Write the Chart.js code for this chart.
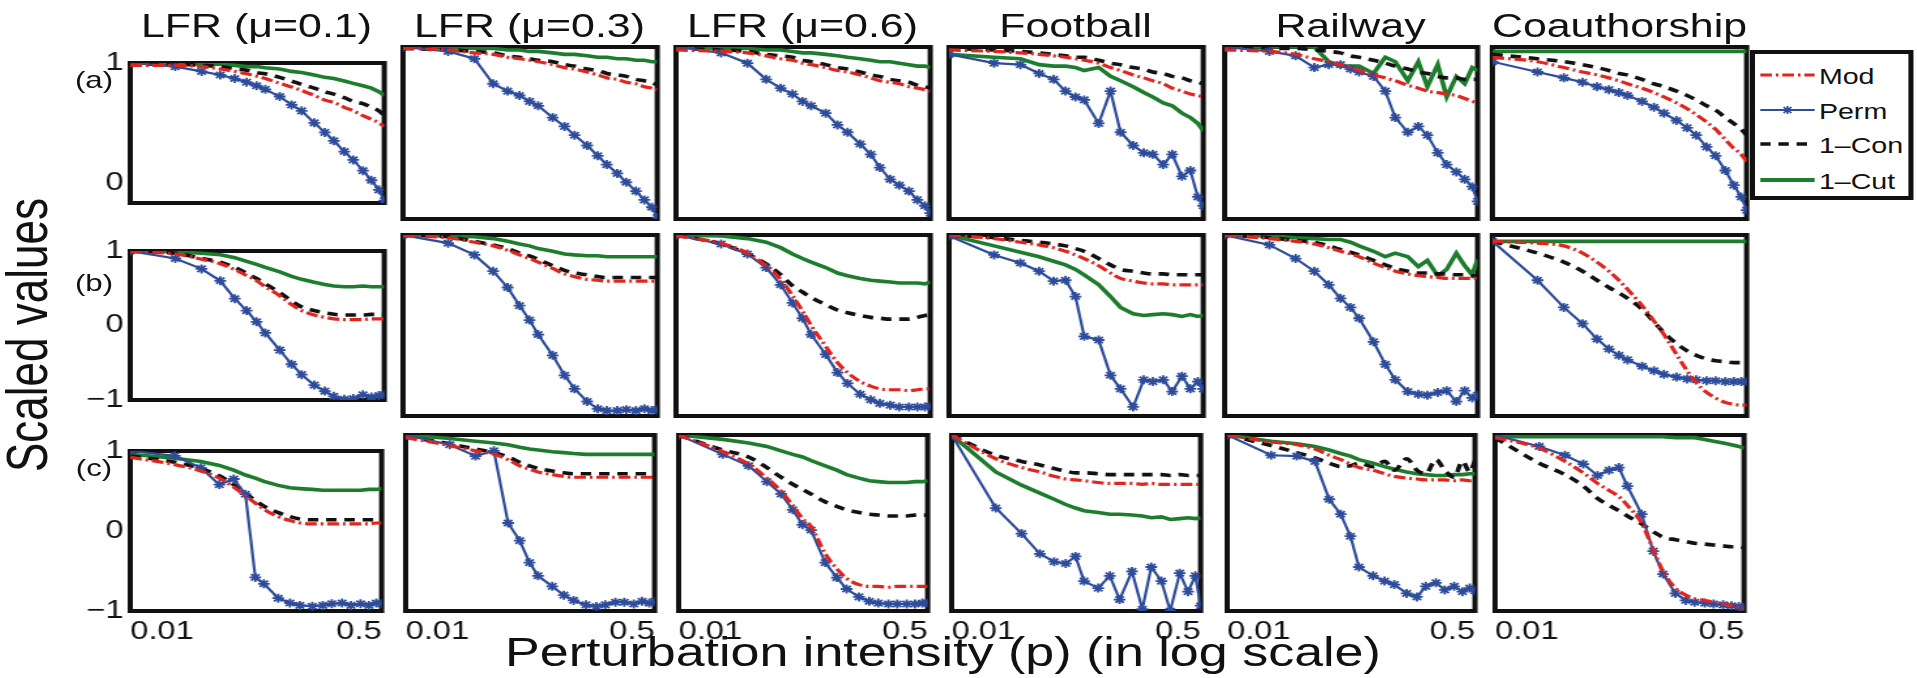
<!DOCTYPE html>
<html>
<head>
<meta charset="utf-8">
<script src="https://cdn.jsdelivr.net/npm/chart.js@4.4.0/dist/chart.umd.min.js"></script>
<style>
  html, body { margin: 0; padding: 0; background: #fff; overflow: hidden; }
  #stage { position: absolute; left: 0; top: 0; width: 1475px; height: 678px;
           transform: scaleX(1.3); transform-origin: 0 0;
           font-family: 'Liberation Sans', Arial, sans-serif; color: #111; }
  .panel { position: absolute; }
  .txt { position: absolute; white-space: nowrap; line-height: 1; }
  #legend { position: absolute; box-sizing: border-box; border: 4px solid #111; background: #fff; }
  .item { position: absolute; left: 0; height: 30px; white-space: nowrap; }
  .item svg { position: absolute; left: 4px; top: 10px; }
  .item span { position: absolute; left: 49px; top: 4px; font-size: 22px; white-space: nowrap; }
</style>
</head>
<body>
<div id="stage"></div>
<script>
// perturbation intensity p (x values, log axis)
const pValues = [0.01, 0.02, 0.03, 0.04, 0.05, 0.06, 0.07, 0.08, 0.1, 0.12, 0.14, 0.17, 0.2, 0.23, 0.27, 0.31, 0.36, 0.41, 0.46, 0.5]

const columnTitles = ['LFR (\u03bc=0.1)', 'LFR (\u03bc=0.3)', 'LFR (\u03bc=0.6)', 'Football', 'Railway', 'Coauthorship']
const rowLabels = ['(a)', '(b)', '(c)']
const seriesNames = ['Mod', 'Perm', '1\u2013Con', '1\u2013Cut']
const xTickValues = [0.01, 0.5]
const xTickLabels = ['0.01', '0.5']
const yTicksTop = [0, 1]
const yTicksOther = [-1, 0, 1]

// row (a)
const modA = [
  [0.98,0.98,0.97,0.95,0.93,0.91,0.89,0.87,0.83,0.8,0.77,0.73,0.69,0.67,0.63,0.6,0.56,0.53,0.5,0.47],
  [0.99,0.98,0.96,0.95,0.93,0.92,0.91,0.9,0.88,0.86,0.85,0.83,0.81,0.79,0.78,0.76,0.75,0.73,0.72,0.71],
  [0.98,0.97,0.96,0.94,0.92,0.91,0.89,0.88,0.86,0.84,0.83,0.81,0.79,0.77,0.76,0.75,0.73,0.72,0.71,0.7],
  [0.98,0.97,0.96,0.95,0.94,0.93,0.92,0.91,0.89,0.86,0.84,0.81,0.79,0.77,0.75,0.72,0.7,0.68,0.67,0.66],
  [0.98,0.97,0.95,0.92,0.9,0.88,0.86,0.84,0.81,0.79,0.77,0.74,0.72,0.7,0.69,0.68,0.67,0.65,0.63,0.62],
  [0.93,0.9,0.86,0.83,0.81,0.79,0.77,0.75,0.72,0.69,0.66,0.62,0.58,0.54,0.49,0.44,0.37,0.31,0.27,0.22]
]
const permA = [
  [1,0.97,0.93,0.9,0.87,0.84,0.81,0.78,0.72,0.65,0.6,0.5,0.42,0.35,0.26,0.19,0.1,0.02,-0.06,-0.15],
  [1,0.97,0.92,0.75,0.7,0.67,0.63,0.6,0.52,0.46,0.4,0.33,0.26,0.2,0.14,0.08,0.02,-0.04,-0.09,-0.16],
  [1,0.96,0.89,0.78,0.72,0.68,0.63,0.6,0.55,0.47,0.42,0.34,0.27,0.18,0.1,0.06,0.02,-0.04,-0.08,-0.13],
  [0.95,0.89,0.88,0.82,0.78,0.7,0.66,0.64,0.48,0.7,0.42,0.33,0.28,0.27,0.2,0.27,0.12,0.16,-0.02,-0.08],
  [1,0.97,0.94,0.86,0.88,0.88,0.85,0.83,0.8,0.7,0.52,0.42,0.46,0.4,0.28,0.2,0.15,0.1,0.05,-0.05],
  [0.9,0.83,0.79,0.76,0.73,0.71,0.69,0.67,0.63,0.59,0.55,0.5,0.45,0.4,0.32,0.26,0.16,0.06,-0.02,-0.11]
]
const conA = [
  [0.99,0.99,0.98,0.97,0.95,0.94,0.92,0.91,0.88,0.85,0.82,0.79,0.76,0.74,0.71,0.68,0.66,0.63,0.6,0.56],
  [0.99,0.98,0.97,0.96,0.94,0.93,0.92,0.91,0.9,0.88,0.87,0.85,0.84,0.82,0.81,0.8,0.78,0.77,0.76,0.74],
  [0.99,0.98,0.97,0.95,0.94,0.93,0.91,0.9,0.88,0.86,0.85,0.83,0.81,0.8,0.78,0.77,0.76,0.74,0.73,0.72],
  [0.99,0.98,0.97,0.96,0.95,0.94,0.93,0.93,0.91,0.89,0.88,0.86,0.85,0.83,0.82,0.8,0.79,0.77,0.76,0.75],
  [1,0.99,0.99,0.98,0.97,0.96,0.94,0.93,0.91,0.89,0.87,0.85,0.83,0.82,0.8,0.79,0.79,0.78,0.78,0.78],
  [0.95,0.92,0.9,0.88,0.86,0.84,0.82,0.81,0.78,0.75,0.73,0.7,0.67,0.64,0.6,0.57,0.52,0.48,0.44,0.4]
]
const cutA = [
  [1,1,0.99,0.99,0.98,0.97,0.97,0.96,0.95,0.93,0.92,0.9,0.88,0.87,0.85,0.83,0.81,0.79,0.76,0.73],
  [1,1,0.99,0.99,0.98,0.98,0.97,0.97,0.96,0.95,0.95,0.94,0.93,0.93,0.92,0.92,0.91,0.91,0.9,0.9],
  [1,0.99,0.99,0.98,0.98,0.97,0.96,0.96,0.95,0.94,0.93,0.92,0.91,0.9,0.9,0.89,0.88,0.87,0.87,0.86],
  [0.95,0.93,0.92,0.88,0.87,0.87,0.86,0.84,0.86,0.8,0.77,0.73,0.69,0.66,0.62,0.6,0.55,0.52,0.48,0.43],
  [1,1,1,1,0.9,0.87,0.87,0.87,0.82,0.93,0.9,0.77,0.9,0.73,0.88,0.66,0.8,0.75,0.86,0.84],
  [0.97,0.97,0.97,0.97,0.97,0.97,0.97,0.97,0.97,0.97,0.97,0.97,0.97,0.97,0.97,0.97,0.97,0.97,0.97,0.97]
]

// row (b)
const modB = [
  [0.99,0.96,0.89,0.83,0.75,0.67,0.6,0.52,0.4,0.28,0.2,0.14,0.11,0.09,0.08,0.08,0.08,0.09,0.09,0.09],
  [0.99,0.97,0.92,0.88,0.83,0.78,0.74,0.7,0.63,0.57,0.54,0.51,0.5,0.49,0.49,0.49,0.49,0.49,0.49,0.49],
  [0.99,0.91,0.8,0.66,0.51,0.33,0.16,0,-0.23,-0.41,-0.52,-0.62,-0.67,-0.7,-0.71,-0.71,-0.72,-0.71,-0.7,-0.7],
  [1,0.96,0.92,0.89,0.86,0.82,0.78,0.74,0.66,0.58,0.52,0.49,0.47,0.46,0.46,0.45,0.45,0.45,0.45,0.45],
  [1,0.96,0.93,0.9,0.86,0.82,0.79,0.76,0.69,0.64,0.6,0.57,0.55,0.54,0.53,0.52,0.52,0.52,0.52,0.52],
  [0.93,0.91,0.88,0.8,0.7,0.6,0.5,0.4,0.22,0.05,-0.1,-0.32,-0.5,-0.63,-0.74,-0.8,-0.85,-0.87,-0.88,-0.88]
]
const permB = [
  [1,0.9,0.76,0.6,0.36,0.2,0.05,-0.1,-0.33,-0.52,-0.66,-0.8,-0.88,-0.95,-0.99,-0.98,-0.93,-0.96,-0.94,-0.93],
  [1,0.91,0.78,0.6,0.42,0.22,0.06,-0.1,-0.33,-0.55,-0.7,-0.84,-0.92,-0.94,-0.94,-0.93,-0.94,-0.92,-0.94,-0.93],
  [1,0.9,0.79,0.64,0.45,0.25,0.08,-0.1,-0.32,-0.52,-0.64,-0.76,-0.82,-0.86,-0.88,-0.9,-0.9,-0.9,-0.9,-0.89],
  [0.99,0.78,0.69,0.6,0.49,0.5,0.32,-0.12,-0.16,-0.55,-0.7,-0.9,-0.6,-0.62,-0.6,-0.73,-0.56,-0.7,-0.62,-0.7],
  [1,0.89,0.74,0.6,0.45,0.3,0.2,0.08,-0.18,-0.43,-0.6,-0.73,-0.76,-0.77,-0.74,-0.72,-0.84,-0.72,-0.8,-0.77],
  [0.93,0.5,0.2,0.02,-0.15,-0.26,-0.33,-0.38,-0.45,-0.5,-0.54,-0.57,-0.59,-0.6,-0.61,-0.61,-0.62,-0.62,-0.62,-0.62]
]
const conB = [
  [1,0.97,0.9,0.85,0.78,0.7,0.63,0.56,0.44,0.33,0.25,0.2,0.17,0.15,0.14,0.14,0.14,0.15,0.15,0.15],
  [1,0.98,0.93,0.89,0.85,0.8,0.77,0.73,0.66,0.61,0.58,0.56,0.54,0.53,0.53,0.53,0.53,0.53,0.53,0.53],
  [1,0.9,0.79,0.68,0.56,0.44,0.37,0.31,0.23,0.17,0.14,0.11,0.09,0.08,0.07,0.07,0.07,0.09,0.11,0.12],
  [1,0.97,0.94,0.92,0.9,0.88,0.85,0.82,0.74,0.67,0.62,0.6,0.58,0.57,0.57,0.56,0.56,0.56,0.56,0.56],
  [1,0.97,0.94,0.92,0.88,0.84,0.81,0.78,0.72,0.67,0.63,0.6,0.58,0.58,0.57,0.57,0.56,0.56,0.55,0.55],
  [0.93,0.8,0.7,0.6,0.5,0.42,0.36,0.3,0.18,0.04,-0.08,-0.2,-0.28,-0.33,-0.37,-0.39,-0.4,-0.41,-0.41,-0.42]
]
const cutB = [
  [1,0.99,0.97,0.95,0.91,0.86,0.82,0.78,0.72,0.66,0.62,0.58,0.55,0.53,0.52,0.52,0.53,0.52,0.52,0.52],
  [1,0.99,0.98,0.96,0.93,0.9,0.88,0.85,0.82,0.79,0.78,0.77,0.77,0.76,0.76,0.76,0.76,0.76,0.76,0.76],
  [1,0.99,0.96,0.92,0.86,0.79,0.74,0.7,0.64,0.58,0.55,0.52,0.5,0.49,0.48,0.47,0.47,0.47,0.46,0.48],
  [1,0.88,0.81,0.76,0.71,0.67,0.62,0.56,0.45,0.32,0.2,0.13,0.11,0.12,0.13,0.12,0.1,0.12,0.1,0.11],
  [1,0.99,0.97,0.96,0.95,0.95,0.92,0.88,0.82,0.76,0.8,0.76,0.65,0.72,0.55,0.62,0.8,0.66,0.56,0.73],
  [0.93,0.93,0.93,0.93,0.93,0.93,0.93,0.93,0.93,0.93,0.93,0.93,0.93,0.93,0.93,0.93,0.93,0.93,0.93,0.93]
]

// row (c)
const modC = [
  [0.92,0.83,0.75,0.66,0.55,0.44,0.35,0.27,0.18,0.13,0.1,0.09,0.09,0.09,0.09,0.09,0.09,0.09,0.1,0.1],
  [0.97,0.88,0.82,0.78,0.72,0.65,0.61,0.58,0.55,0.53,0.52,0.52,0.52,0.52,0.52,0.52,0.52,0.52,0.52,0.52],
  [1,0.81,0.67,0.51,0.36,0.2,0.05,-0.04,-0.35,-0.52,-0.63,-0.7,-0.72,-0.72,-0.73,-0.72,-0.72,-0.72,-0.72,-0.72],
  [1,0.73,0.63,0.58,0.53,0.5,0.49,0.48,0.46,0.45,0.45,0.45,0.44,0.45,0.44,0.44,0.44,0.44,0.44,0.44],
  [1,0.92,0.89,0.84,0.77,0.72,0.67,0.63,0.6,0.56,0.53,0.51,0.5,0.49,0.49,0.49,0.48,0.49,0.48,0.49],
  [0.97,0.85,0.7,0.57,0.45,0.37,0.3,0.2,0,-0.3,-0.55,-0.74,-0.82,-0.86,-0.88,-0.9,-0.92,-0.94,-0.96,-0.98]
]
const permC = [
  [1,0.94,0.79,0.58,0.65,0.46,-0.58,-0.66,-0.84,-0.9,-0.93,-0.94,-0.93,-0.91,-0.9,-0.93,-0.91,-0.93,-0.9,-0.91],
  [1,0.89,0.76,0.82,0,-0.2,-0.45,-0.6,-0.72,-0.82,-0.88,-0.93,-0.95,-0.93,-0.9,-0.9,-0.92,-0.89,-0.91,-0.89],
  [1,0.78,0.65,0.47,0.33,0.15,-0.02,-0.08,-0.45,-0.62,-0.75,-0.84,-0.89,-0.91,-0.92,-0.92,-0.92,-0.92,-0.91,-0.91],
  [1,0.17,-0.12,-0.35,-0.44,-0.46,-0.38,-0.66,-0.74,-0.6,-0.87,-0.55,-0.98,-0.5,-0.66,-1,-0.57,-0.78,-0.6,-0.94],
  [1,0.77,0.76,0.7,0.27,0.1,-0.15,-0.5,-0.6,-0.66,-0.7,-0.8,-0.84,-0.72,-0.68,-0.76,-0.72,-0.78,-0.74,-0.77],
  [1,0.87,0.77,0.67,0.54,0.6,0.63,0.42,0.1,-0.32,-0.58,-0.8,-0.88,-0.9,-0.91,-0.92,-0.93,-0.94,-0.95,-0.96]
]
const conC = [
  [0.94,0.86,0.78,0.69,0.58,0.47,0.38,0.31,0.23,0.18,0.15,0.14,0.14,0.14,0.14,0.14,0.14,0.14,0.14,0.14],
  [0.98,0.9,0.84,0.8,0.75,0.69,0.65,0.62,0.59,0.57,0.56,0.56,0.56,0.56,0.56,0.56,0.56,0.56,0.56,0.56],
  [1,0.83,0.75,0.63,0.52,0.44,0.38,0.33,0.24,0.19,0.15,0.12,0.1,0.09,0.08,0.08,0.08,0.09,0.09,0.09],
  [1,0.77,0.7,0.66,0.62,0.59,0.57,0.57,0.56,0.55,0.55,0.55,0.55,0.55,0.55,0.54,0.55,0.54,0.54,0.54],
  [1,0.88,0.8,0.74,0.68,0.64,0.65,0.68,0.64,0.7,0.6,0.73,0.6,0.56,0.72,0.6,0.52,0.7,0.58,0.71],
  [0.97,0.68,0.55,0.42,0.28,0.2,0.14,0.08,-0.01,-0.1,-0.16,-0.19,-0.21,-0.23,-0.24,-0.25,-0.26,-0.27,-0.27,-0.28]
]
const cutC = [
  [0.96,0.91,0.87,0.82,0.76,0.7,0.66,0.62,0.57,0.54,0.53,0.52,0.51,0.51,0.51,0.51,0.51,0.52,0.52,0.53],
  [1,0.96,0.93,0.91,0.89,0.86,0.84,0.83,0.81,0.8,0.79,0.78,0.78,0.78,0.78,0.78,0.78,0.78,0.78,0.78],
  [1,0.95,0.91,0.87,0.82,0.78,0.75,0.71,0.65,0.6,0.55,0.51,0.48,0.47,0.46,0.46,0.46,0.47,0.47,0.48],
  [1,0.58,0.43,0.34,0.27,0.21,0.17,0.14,0.12,0.1,0.1,0.09,0.08,0.06,0.07,0.04,0.05,0.06,0.05,0.06],
  [1,0.93,0.9,0.87,0.83,0.79,0.76,0.72,0.68,0.64,0.61,0.58,0.56,0.55,0.54,0.54,0.55,0.55,0.56,0.56],
  [0.98,0.98,0.98,0.98,0.98,0.98,0.98,0.98,0.98,0.98,0.98,0.97,0.97,0.97,0.95,0.93,0.91,0.89,0.87,0.85]
]

const rows = [
  { mod: modA, perm: permA, con: conA, cut: cutA, yMin: -0.17, ticks: yTicksTop },
  { mod: modB, perm: permB, con: conB, cut: cutB, yMin: -1, ticks: yTicksOther },
  { mod: modC, perm: permC, con: conC, cut: cutC, yMin: -1, ticks: yTicksOther }
]

// layout, in screen pixels (the stage is stretched horizontally by K)
const K = 1.3
const colLeft = [130, 403, 676, 949, 1224, 1493]
const colWidth = 253
const rowTop = [47, 235, 435]
const rowHeight = [172, 181, 176]
const FONT = "'Liberation Sans', Arial, sans-serif"

const RED = '#e3241d', BLUE = '#2d4c9c', BLACK = '#111111', GREEN = '#1c7d2c'

const stage = document.getElementById('stage')

function addText(str, cx, cy, size, rotate) {
  const d = document.createElement('div')
  d.className = 'txt'
  d.textContent = str
  d.style.fontSize = size + 'px'
  d.style.left = (cx / K) + 'px'
  d.style.top = cy + 'px'
  d.style.transform = 'translate(-50%, -50%)' + (rotate ? ' rotate(-90deg)' : '')
  stage.appendChild(d)
}

const framePlugin = {
  id: 'frame',
  beforeDatasetsDraw(chart) {
    const { ctx, chartArea: a } = chart
    ctx.save()
    ctx.strokeStyle = BLACK
    ctx.lineWidth = 4
    ctx.strokeRect(a.left, a.top, a.right - a.left, a.bottom - a.top)
    ctx.restore()
  }
}

function series(arr) {
  return pValues.map((p, i) => ({ x: p, y: arr[i] }))
}

function makePanel(r, c) {
  const row = rows[r]
  const yw = c === 0 ? 40 : 4
  const xh = r === 2 ? 34 : 4
  const pad = 4
  const div = document.createElement('div')
  div.className = 'panel'
  div.style.left = (colLeft[c] / K - yw) + 'px'
  div.style.top = (rowTop[r] - pad) + 'px'
  div.style.width = (colWidth / K + yw + pad) + 'px'
  div.style.height = (rowHeight[r] + pad + xh) + 'px'
  const canvas = document.createElement('canvas')
  div.appendChild(canvas)
  stage.appendChild(div)

  new Chart(canvas.getContext('2d'), {
    type: 'line',
    data: {
      datasets: [
        { label: seriesNames[0], data: series(row.mod[c]), borderColor: RED, borderWidth: 3.2,
          borderDash: [9, 3, 2, 3], pointRadius: 0, cubicInterpolationMode: 'monotone' },
        { label: seriesNames[1], data: series(row.perm[c]), borderColor: BLUE, borderWidth: 2.2,
          pointStyle: 'star', pointRadius: 4.5, pointBorderWidth: 1.8, pointBorderColor: BLUE,
          pointBackgroundColor: BLUE },
        { label: seriesNames[2], data: series(row.con[c]), borderColor: BLACK, borderWidth: 3.6,
          borderDash: [8, 6], pointRadius: 0, cubicInterpolationMode: 'monotone' },
        { label: seriesNames[3], data: series(row.cut[c]), borderColor: GREEN, borderWidth: 3.6,
          pointRadius: 0 }
      ]
    },
    options: {
      responsive: true,
      maintainAspectRatio: false,
      animation: false,
      events: [],
      layout: { autoPadding: false, padding: { top: pad, right: pad, left: 0, bottom: 0 } },
      plugins: { legend: { display: false }, tooltip: { enabled: false } },
      scales: {
        x: {
          type: 'logarithmic', min: 0.01, max: 0.5,
          grid: { display: false, drawTicks: false }, border: { display: false },
          afterBuildTicks: s => { s.ticks = xTickValues.map(v => ({ value: v })) },
          afterFit: s => { s.height = xh },
          ticks: {
            display: r === 2, align: 'inner', maxRotation: 0, autoSkip: false, padding: 6,
            color: BLACK, font: { family: FONT, size: 25 },
            callback: (v, i) => xTickLabels[i]
          }
        },
        y: {
          min: row.yMin, max: 1,
          grid: { display: false, drawTicks: false }, border: { display: false },
          afterBuildTicks: s => { s.ticks = row.ticks.map(v => ({ value: v })) },
          afterFit: s => { s.width = yw },
          ticks: {
            display: c === 0, padding: 5, color: BLACK, font: { family: FONT, size: 25 },
            callback: v => (v < 0 ? '\u2212' + Math.abs(v) : String(v))
          }
        }
      }
    },
    plugins: [framePlugin]
  })
}

for (let r = 0; r < 3; r++) {
  for (let c = 0; c < 6; c++) makePanel(r, c)
}

// column titles, row labels, axis titles
columnTitles.forEach((t, c) => addText(t, colLeft[c] + colWidth / 2, 25, 33))
const rowLabelY = [80, 283, 468]
rowLabels.forEach((t, r) => addText(t, 94, rowLabelY[r], 24))
addText('Scaled values', 27, 335, 44, true)
addText('Perturbation intensity (p) (in log scale)', 943, 652, 40)

// legend
const legend = document.createElement('div')
legend.id = 'legend'
legend.style.left = (1750 / K) + 'px'
legend.style.top = '50px'
legend.style.width = ((1913 - 1750) / K) + 'px'
legend.style.height = '150px'
stage.appendChild(legend)
const samples = [
  '<line x1="0" y1="5" x2="42" y2="5" stroke="' + RED + '" stroke-width="3" stroke-dasharray="9 3 2 3"/>',
  '<line x1="0" y1="5" x2="42" y2="5" stroke="' + BLUE + '" stroke-width="2"/>' +
    '<path d="M21 1 V9 M17 5 H25 M18 2 L24 8 M24 2 L18 8" stroke="' + BLUE + '" stroke-width="1.5"/>',
  '<line x1="0" y1="5" x2="42" y2="5" stroke="' + BLACK + '" stroke-width="3.5" stroke-dasharray="8 6"/>',
  '<line x1="0" y1="5" x2="42" y2="5" stroke="' + GREEN + '" stroke-width="4"/>'
]
const itemY = [6, 41, 75, 111]
seriesNames.forEach((name, i) => {
  const it = document.createElement('div')
  it.className = 'item'
  it.style.top = itemY[i] + 'px'
  it.innerHTML = '<svg width="42" height="10">' + samples[i] + '</svg><span>' + name + '</span>'
  legend.appendChild(it)
})
</script>
</body>
</html>
